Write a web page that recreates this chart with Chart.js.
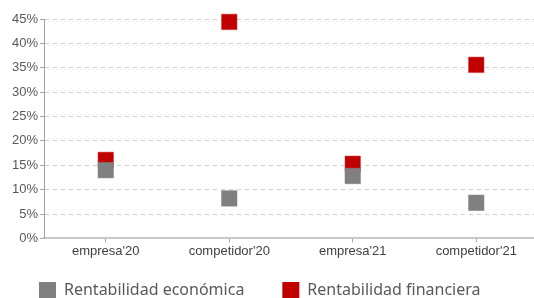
<!DOCTYPE html>
<html>
<head>
<meta charset="utf-8">
<script src="https://cdn.jsdelivr.net/npm/chart.js@4"></script>
<style>
  html, body { margin: 0; padding: 0; background: #fff; overflow: hidden; }
  #wrap { width: 538px; height: 298px; }
</style>
</head>
<body>
<div id="wrap"><canvas id="chart"></canvas></div>
<script>
// data
const categories = ["empresa'20", "competidor'20", "empresa'21", "competidor'21"];
const rentEconomica = [14.0, 8.2, 12.8, 7.3];
const rentFinanciera = [16.1, 44.4, 15.3, 35.6];
const yTicks = [0, 5, 10, 15, 20, 25, 30, 35, 40, 45];

// nudge the legend to where the original sits (low, left-ish)
const legendPlace = {
  id: "legendPlace",
  afterLayout(chart) {
    const lg = chart.legend;
    const h = lg.height;
    lg.top = 244;
    lg.bottom = 244 + h;
    lg.left = 1;
  },
};

const ctx = document.getElementById("chart").getContext("2d");
const chart = new Chart(ctx, {
  type: "line",
  data: {
    labels: categories,
    datasets: [
      {
        label: "Rentabilidad económica",
        data: rentEconomica,
        showLine: false,
        clip: false,
        pointStyle: "rect",
        pointRadius: 11,
        pointHoverRadius: 11,
        backgroundColor: "#808080",
        borderColor: "rgba(128,128,128,0.45)",
        borderWidth: 1,
      },
      {
        label: "Rentabilidad financiera",
        data: rentFinanciera,
        showLine: false,
        clip: false,
        pointStyle: "rect",
        pointRadius: 11,
        pointHoverRadius: 11,
        backgroundColor: "#c00000",
        borderColor: "rgba(220,60,60,0.5)",
        borderWidth: 1,
      },
    ],
  },
  plugins: [legendPlace],
  options: {
    responsive: true,
    maintainAspectRatio: false,
    animation: false,
    layout: {
      autoPadding: false,
      padding: { top: 19, right: 0, left: 0, bottom: -27 },
    },
    plugins: {
      tooltip: { enabled: false },
      legend: {
        position: "bottom",
        align: "start",
        labels: {
          font: { family: "'Noto Sans'", size: 16 },
          color: "#595959",
          boxWidth: 17,
          boxHeight: 17,
          padding: 38,
          generateLabels: (c) =>
            c.data.datasets.map((ds, i) => ({
              text: ds.label,
              fillStyle: ds.backgroundColor,
              strokeStyle: ds.backgroundColor,
              lineWidth: 0,
              datasetIndex: i,
              fontColor: "#595959",
            })),
        },
      },
    },
    scales: {
      x: {
        offset: true,
        grid: {
          drawOnChartArea: false,
          tickLength: 4,
          tickColor: "#a6a6a6",
        },
        border: { color: "#c8c8c8", width: 2 },
        ticks: {
          font: { family: "'Liberation Sans'", size: 13 },
          color: "#404040",
          padding: 1,
        },
      },
      y: {
        min: 0,
        max: 45,
        afterBuildTicks: (scale) => {
          scale.ticks = yTicks.map((v) => ({ value: v }));
        },
        afterFit: (scale) => {
          scale.width = 44;
        },
        grid: {
          color: "#d0d0d0",
          tickColor: "#a6a6a6",
          tickLength: 4,
          tickBorderDash: [],
        },
        border: { color: "#a0a0a0", width: 1, dash: [4, 4] },
        ticks: {
          font: { family: "'Liberation Sans'", size: 13 },
          color: "#595959",
          padding: 2,
          callback: (v) => v + "%",
        },
      },
    },
  },
});
</script>
</body>
</html>
